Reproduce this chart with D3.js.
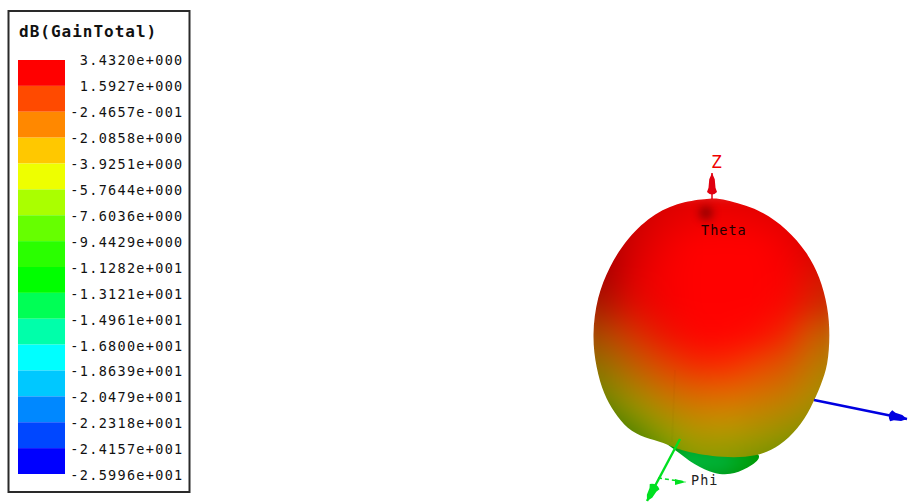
<!DOCTYPE html>
<html>
<head>
<meta charset="utf-8">
<script src="https://cdn.jsdelivr.net/npm/d3@7"></script>
<style>
html, body { margin: 0; padding: 0; background: #fff; }
svg { display: block; }
text { font-family: "DejaVu Sans Mono", monospace; }
</style>
</head>
<body>
<svg id="chart" width="916" height="502"></svg>
<script>
var legendTitle = 'dB(GainTotal)';
var legendLevels = [3.432, 1.5927, -0.24657, -2.0858, -3.9251, -5.7644, -7.6036, -9.4429, -11.282, -13.121, -14.961, -16.8, -18.639, -20.479, -22.318, -24.157, -25.996];
var legendLabels = ['3.4320e+000', '1.5927e+000', '-2.4657e-001', '-2.0858e+000', '-3.9251e+000', '-5.7644e+000', '-7.6036e+000', '-9.4429e+000', '-1.1282e+001', '-1.3121e+001', '-1.4961e+001', '-1.6800e+001', '-1.8639e+001', '-2.0479e+001', '-2.2318e+001', '-2.4157e+001', '-2.5996e+001'];
var bandColors = ['#ff0000', '#ff4a00', '#ff8800', '#ffc800', '#eeff00', '#aaff00', '#66ff00', '#2aff00', '#00ff00', '#00ff55', '#00ffaa', '#00ffff', '#00c8ff', '#0088ff', '#0047ff', '#0000ff'];

// pattern plane, u across and v up
var mainOutline = [[0,1.37],[.11,1.36],[.48,1.26],[.75,1.06],[.95,.83],[1.08,.58],[1.16,.28],[1.18,0],[1.16,-.3],[1.09,-.5],[.99,-.73],[.86,-.94],[.68,-1.11],[.45,-1.22],[.11,-1.23],[-.29,-1.17],[-.49,-1.07],[-.67,-1.03],[-.85,-.94],[-.98,-.77],[-1.08,-.6],[-1.16,-.33],[-1.2,0],[-1.15,.38],[-1.03,.68],[-.85,.97],[-.57,1.23],[-.27,1.34]];
var lobeOutline = [[-.54,-1.04],[-.36,-1.15],[-.18,-1.3],[.03,-1.39],[.18,-1.4],[.35,-1.34],[.56,-1.19],[.2,-1.1],[-.2,-1.02]];
var seamLine = [[-.37, -.35], [-.4, -1.07]];

var gridU = [-1.37, -1.07, -.77, -.47, -.17, .13, .43, .73, 1.03, 1.33];
var gridV = [1.5, 1.2, .9, .6, .3, 0, -.3, -.6, -.9, -1.2, -1.5];
var mainGain = [
  [3.4, 3.4, 3.4, 3.4, 3.4, 3.4, 3.4, 3.4, 3.4, 3.4],
  [3.4, 3.4, 3.4, 3.4, 3.4, 3.4, 3.4, 3.4, 3.4, 3.4],
  [3.4, 3.4, 3.4, 3.4, 3.4, 3.4, 3.4, 3.4, 3.4, 3.4],
  [3.2, 3.4, 3.4, 3.4, 3.4, 3.4, 3.4, 3.4, 2.9, 2.5],
  [2.0, 2.6, 3.1, 3.4, 3.4, 3.4, 3.4, 3.2, 2.3, 1.6],
  [0.0, 0.8, 2.0, 2.9, 3.3, 3.3, 3.1, 2.4, 0.4, -0.6],
  [-2.4, -1.6, 0.2, 1.5, 2.3, 2.3, 1.6, 0.8, -1.0, -2.2],
  [-4.8, -4.0, -2.2, -0.6, 0.2, 0.2, -0.2, -0.8, -2.2, -3.6],
  [-7.0, -6.4, -5.0, -3.2, -2.0, -2.0, -2.2, -2.8, -3.6, -4.6],
  [-8.0, -7.6, -7.0, -6.0, -4.0, -4.0, -4.4, -5.0, -5.6, -6.0],
  [-8.0, -7.6, -7.0, -6.0, -4.0, -4.0, -4.4, -5.0, -5.6, -6.0]
];
var mainShade = [
  [.74, .76, .8, .84, .86, .86, .84, .82, .8, .78],
  [.62, .68, .8, .88, .92, .94, .92, .88, .82, .76],
  [.6, .68, .84, .94, 1, 1, 1, .95, .84, .74],
  [.58, .68, .88, .97, 1, 1, 1, .98, .86, .74],
  [.6, .7, .88, .96, 1, 1, 1, .97, .84, .74],
  [.58, .7, .84, .93, .99, 1, .99, .94, .8, .7],
  [.52, .6, .76, .88, .95, .97, .93, .86, .74, .64],
  [.48, .52, .65, .78, .86, .88, .84, .78, .68, .58],
  [.46, .48, .54, .63, .73, .75, .7, .64, .58, .52],
  [.46, .48, .5, .58, .6, .6, .57, .54, .5, .48],
  [.46, .48, .5, .58, .6, .6, .57, .54, .5, .48]
];

var lobeU = [-.7, -.25, .1, .7];
var lobeV = [-1.0, -1.25, -1.5];
var lobeGain = [
  [-10, -12.5, -12, -10.5],
  [-10.5, -13, -13, -10.5],
  [-10.5, -12.5, -12, -10.5]
];
var lobeShade = [
  [.5, .6, .52, .5],
  [.52, .72, .7, .56],
  [.5, .62, .58, .5]
];

var axisZ = [[0, 1.36], [0, 1.62]];
var axisX = [[1.02, -.65], [1.95, -.84]];
var axisY = [[-.32, -1.04], [-.65, -1.66]];
var phiTick = [[-.54, -1.43], [-.26, -1.47]];

var svg = d3.select('#chart');

// legend
svg.append('rect').attr('x', 8.5).attr('y', 11).attr('width', 181).attr('height', 481)
  .attr('fill', '#fff').attr('stroke', '#2a2a2a').attr('stroke-width', 2);
svg.append('text').attr('x', 19).attr('y', 37).text(legendTitle)
  .attr('font-size', 16).attr('font-weight', 'bold').attr('letter-spacing', 1.0).attr('fill', '#111');

var bandY = d3.scaleBand().domain(d3.range(bandColors.length)).range([60, 474]);
var labelY = d3.scalePoint().domain(legendLabels).range([60, 475.5]);

svg.append('g').selectAll('rect').data(bandColors).join('rect')
  .attr('x', 18).attr('width', 47)
  .attr('y', function(d, i) { return bandY(i); })
  .attr('height', bandY.bandwidth())
  .attr('fill', function(d) { return d; });

svg.append('g').selectAll('text').data(legendLabels).join('text')
  .attr('x', 183.5).attr('y', function(d) { return labelY(d); })
  .attr('dy', '.36em').attr('text-anchor', 'end')
  .attr('font-size', 13.5).attr('letter-spacing', 1.3).attr('fill', '#111')
  .text(function(d) { return d; });

// pattern
var x = d3.scaleLinear().domain([-1, 1]).range([612, 812]);
var y = d3.scaleLinear().domain([-1, 1]).range([435, 235]);
var gainColor = d3.scaleLinear().domain(legendLevels.slice(0, 16)).range(bandColors).clamp(true);
var outline = d3.line().x(function(d) { return x(d[0]); }).y(function(d) { return y(d[1]); }).curve(d3.curveBasisClosed);

var defs = svg.append('defs');
function softFilter(id, sd) {
  // sRGB here, the default linear space bands the low green values
  defs.append('filter').attr('id', id).attr('filterUnits', 'userSpaceOnUse')
    .attr('color-interpolation-filters', 'sRGB')
    .attr('x', 500).attr('y', 120).attr('width', 416).attr('height', 382)
    .append('feGaussianBlur').attr('stdDeviation', sd);
}
softFilter('soft', 10);
softFilter('softLobe', 4);
softFilter('spot', 4);
defs.append('clipPath').attr('id', 'mainClip').append('path').attr('d', outline(mainOutline));
defs.append('clipPath').attr('id', 'lobeClip').append('path').attr('d', outline(lobeOutline));

// paints the gain and shade tables to a bitmap, pixel by pixel
function drawField(clip, filter, us, vs, gain, shade) {
  var colAt = d3.scaleLinear().domain(us).range(d3.range(us.length)).clamp(true);
  var rowAt = d3.scaleLinear().domain(vs).range(d3.range(vs.length)).clamp(true);
  var left = Math.floor(x(us[0])), right = Math.ceil(x(us[us.length - 1]));
  var top = Math.floor(y(vs[0])), bottom = Math.ceil(y(vs[vs.length - 1]));
  var w = right - left, h = bottom - top;
  var canvas = document.createElement('canvas');
  canvas.width = w; canvas.height = h;
  var ctx = canvas.getContext('2d');
  var img = ctx.createImageData(w, h);
  function read(table, r, c) {
    var r0 = Math.min(Math.floor(r), table.length - 2), c0 = Math.min(Math.floor(c), table[0].length - 2);
    var fr = r - r0, fc = c - c0;
    return (table[r0][c0] * (1 - fc) + table[r0][c0 + 1] * fc) * (1 - fr) +
      (table[r0 + 1][c0] * (1 - fc) + table[r0 + 1][c0 + 1] * fc) * fr;
  }
  for (var j = 0; j < h; j++) {
    for (var i = 0; i < w; i++) {
      var c = colAt(x.invert(left + i)), r = rowAt(y.invert(top + j));
      var col = d3.rgb(gainColor(read(gain, r, c))), s = read(shade, r, c), k = (j * w + i) * 4;
      img.data[k] = col.r * s; img.data[k + 1] = col.g * s; img.data[k + 2] = col.b * s; img.data[k + 3] = 255;
    }
  }
  ctx.putImageData(img, 0, 0);
  var holder = svg.append('g').attr('clip-path', 'url(#' + clip + ')');
  holder.append('image').attr('x', left).attr('y', top).attr('width', w).attr('height', h)
    .attr('href', canvas.toDataURL()).attr('filter', 'url(#' + filter + ')');
  return holder;
}

drawField('lobeClip', 'softLobe', lobeU, lobeV, lobeGain, lobeShade);
var mainLayer = drawField('mainClip', 'soft', gridU, gridV, mainGain, mainShade);

// faint seam of the mesh on the lit side
mainLayer.append('line')
  .attr('x1', x(seamLine[0][0])).attr('y1', y(seamLine[0][1]))
  .attr('x2', x(seamLine[1][0])).attr('y2', y(seamLine[1][1]))
  .attr('stroke', '#000').attr('stroke-opacity', .02).attr('stroke-width', 2);

// dark pole spot under Theta
mainLayer.append('circle').attr('cx', x(-.06)).attr('cy', y(1.22)).attr('r', 7)
  .attr('fill', '#500000').attr('opacity', .55).attr('filter', 'url(#spot)');

function drawAxis(pts, color, width, headLen, headWide) {
  var a = pts[0], b = pts[1];
  var x0 = x(a[0]), y0 = y(a[1]), x1 = x(b[0]), y1 = y(b[1]);
  var len = Math.hypot(x1 - x0, y1 - y0), ux = (x1 - x0) / len, uy = (y1 - y0) / len;
  svg.append('line').attr('x1', x0).attr('y1', y0).attr('x2', x1).attr('y2', y1)
    .attr('stroke', color).attr('stroke-width', width);
  // head runs tip, narrow shoulder, wide shoulder, round base
  function at(along, side) {
    return (x1 - ux * along - uy * side) + ',' + (y1 - uy * along + ux * side);
  }
  svg.append('path').attr('fill', color).attr('d', 'M' + at(0, 0) +
    'L' + at(headLen * .3, headWide * .55) + 'L' + at(headLen * .7, headWide * .7) + 'L' + at(headLen * .9, headWide) +
    'Q' + at(headLen * 1.15, 0) + ' ' + at(headLen * .9, -headWide) +
    'L' + at(headLen * .7, -headWide * .7) + 'L' + at(headLen * .3, -headWide * .55) + 'Z');
}

drawAxis(axisZ, '#e0000f', 1.5, 21, 5);
drawAxis(axisX, '#0000e0', 2.8, 18, 5.5);
drawAxis(axisY, '#00e020', 2.4, 18, 5.5);

svg.append('line').attr('x1', x(phiTick[0][0])).attr('y1', y(phiTick[0][1]))
  .attr('x2', x(phiTick[1][0])).attr('y2', y(phiTick[1][1]))
  .attr('stroke', '#00e020').attr('stroke-width', 1.6).attr('stroke-dasharray', '4 3');
svg.append('path').attr('fill', '#00e020')
  .attr('d', 'M' + x(phiTick[1][0]) + ',' + y(phiTick[1][1]) + 'l-11,-3l0,6z');

svg.append('text').attr('x', 711).attr('y', 168).text('Z').attr('font-size', 18).attr('fill', '#f00000');
svg.append('text').attr('x', 701).attr('y', 235).text('Theta').attr('font-size', 13.5).attr('letter-spacing', 1).attr('fill', '#200000');
svg.append('text').attr('x', 691).attr('y', 485).text('Phi').attr('font-size', 13.5).attr('letter-spacing', 1).attr('fill', '#222');
</script>
</body>
</html>
